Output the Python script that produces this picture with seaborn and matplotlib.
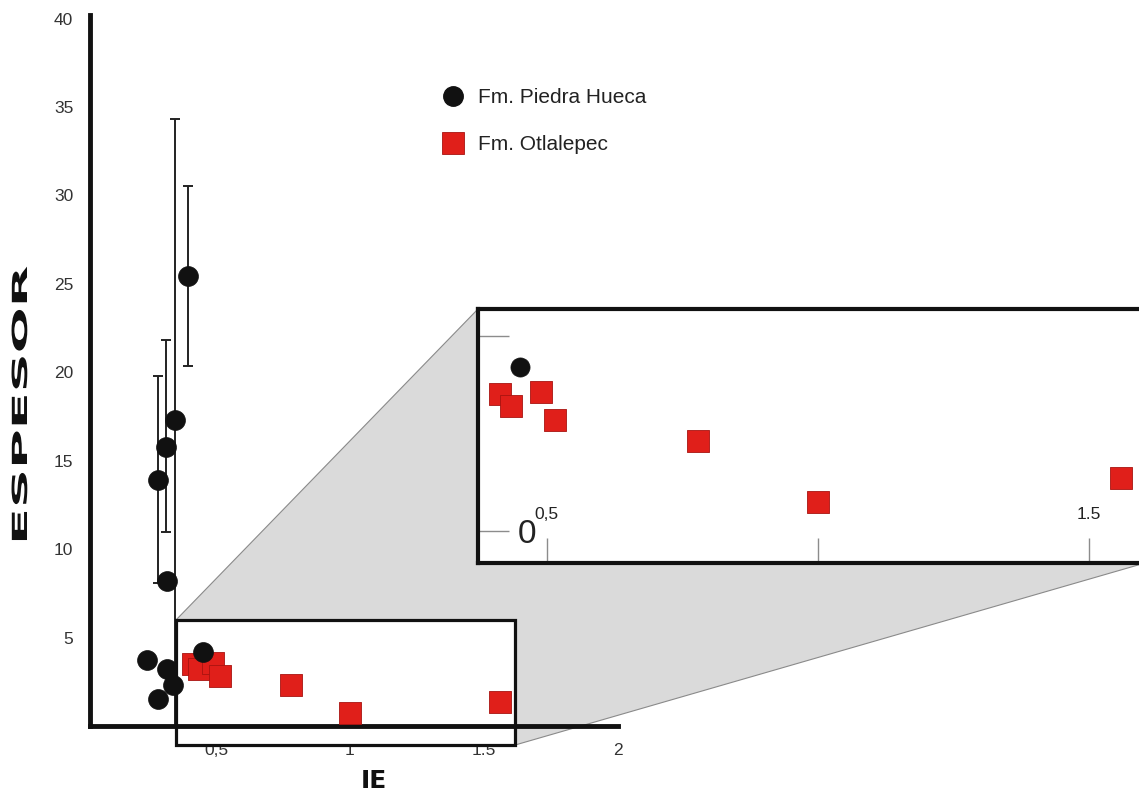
import matplotlib
matplotlib.use("Agg")
import matplotlib.pyplot as plt
import numpy as np
import pandas as pd
import seaborn as sns
from matplotlib.patches import Rectangle, Polygon
from matplotlib.lines import Line2D
from matplotlib.transforms import Affine2D
from matplotlib import patheffects

# ---- data -------------------------------------------------------------
# Fm. Piedra Hueca: IE vs espesor, with lower/upper error bars
ph_ie = [0.395, 0.346, 0.313, 0.283, 0.317, 0.242, 0.317, 0.339, 0.283, 0.45]
ph_espesor = [25.45, 17.3, 15.8, 13.9, 8.2, 3.75, 3.25, 2.3, 1.5, 4.2]
ph_err_low = [5.1, 17.3, 4.85, 5.8, 0, 0, 0, 0, 0, 0]
ph_err_high = [5.1, 17.0, 6.0, 5.9, 0, 0, 0, 0, 0, 0]

# Fm. Otlalepec
ot_ie = [0.414, 0.435, 0.49, 0.515, 0.78, 1.0, 1.56]
ot_espesor = [3.5, 3.2, 3.55, 2.85, 2.3, 0.75, 1.35]

series_names = ["Fm. Piedra Hueca", "Fm. Otlalepec"]

x_ticks = [0.5, 1, 1.5, 2]
x_tick_labels = ["0,5", "1", "1.5", "2"]
y_ticks = [5, 10, 15, 20, 25, 30, 35, 40]
y_tick_labels = ["5", "10", "15", "20", "25", "30", "35", "40"]

inset_x_ticks = [0.5, 1, 1.5]
inset_x_labels = ["0,5", "", "1.5"]
inset_y_ticks = [0, 5]
inset_y_labels = ["0", ""]

# ---- layout / style constants ------------------------------------------
W, H = 1139, 791
BLACK = "#111111"
RED = "#e01f1a"
RED_EDGE = "#a81410"
GRAY_FILL = "#dadada"
GRAY_EDGE = "#8a8a8a"

MAIN_XLIM = (0.03, 2.0)
MAIN_YLIM = (0.0, 40.2)
BOX_X = (0.35, 1.615)          # region enlarged in the detail panel
BOX_Y = (-1.08, 5.98)
INSET_XLIM = (0.3734, 1.604)
INSET_YLIM = (-0.82, 5.69)


class StretchText(patheffects.AbstractPathEffect):
    """Widen glyphs along the text direction."""

    def __init__(self, factor):
        super().__init__()
        self.factor = factor

    def draw_path(self, renderer, gc, tpath, affine, rgbFace=None):
        renderer.draw_path(gc, tpath, Affine2D().scale(self.factor, 1.0) + affine, rgbFace)


def fig_rect(left, top, right, bottom):
    return [left / W, 1 - bottom / H, (right - left) / W, (bottom - top) / H]


sns.set_style("white")
plt.rcParams["font.family"] = ["Liberation Sans", "DejaVu Sans"]

df_ph = pd.DataFrame({"IE": ph_ie, "Espesor": ph_espesor,
                      "low": ph_err_low, "high": ph_err_high})
df_ot = pd.DataFrame({"IE": ot_ie, "Espesor": ot_espesor})

fig = plt.figure(figsize=(W / 100, H / 100), dpi=100)
ax = fig.add_axes(fig_rect(90, 15, 618, 726))
ax.set_xlim(*MAIN_XLIM)
ax.set_ylim(*MAIN_YLIM)

# error bars
bars = df_ph[(df_ph["low"] > 0) | (df_ph["high"] > 0)]
ax.errorbar(bars["IE"], bars["Espesor"], yerr=[bars["low"], bars["high"]],
            fmt="none", ecolor="#222222", elinewidth=1.4, capsize=3.4,
            capthick=1.4, zorder=1.8)

# outline of the enlarged region
ax.add_patch(Rectangle((BOX_X[0], BOX_Y[0]), BOX_X[1] - BOX_X[0], BOX_Y[1] - BOX_Y[0],
                       facecolor="white", edgecolor=BLACK, linewidth=2.3,
                       zorder=2, clip_on=False))

sns.scatterplot(data=df_ot, x="IE", y="Espesor", marker="s", s=270, color=RED,
                edgecolor=RED_EDGE, linewidth=0.6, ax=ax, zorder=3, legend=False)
sns.scatterplot(data=df_ph, x="IE", y="Espesor", marker="o", s=205, color=BLACK,
                edgecolor=BLACK, linewidth=0.5, ax=ax, zorder=4, legend=False)

ax.set_xticks(x_ticks)
ax.set_xticklabels(x_tick_labels)
ax.set_yticks(y_ticks)
ax.set_yticklabels(y_tick_labels)
ax.tick_params(length=0, pad=12, labelsize=12.5, labelcolor="#333333")
ax.set_xlabel("")
ax.set_ylabel("")
for side in ("top", "right"):
    ax.spines[side].set_visible(False)
for side in ("left", "bottom"):
    ax.spines[side].set_linewidth(3.5)
    ax.spines[side].set_color(BLACK)
    ax.spines[side].set_zorder(2.5)

# detail panel
in_rect = fig_rect(478, 309, 1145, 563)
to_fig = fig.transFigure.inverted()
corner_a = to_fig.transform(ax.transData.transform((BOX_X[0], BOX_Y[1])))
corner_e = to_fig.transform(ax.transData.transform((BOX_X[1], BOX_Y[0])))
in_l, in_b, in_w, in_h = in_rect
shade = Polygon([corner_a, (in_l, in_b + in_h), (in_l + in_w, in_b + in_h),
                 (in_l + in_w, in_b), corner_e], closed=True,
                transform=fig.transFigure, facecolor=GRAY_FILL, edgecolor=GRAY_EDGE,
                linewidth=0.8, zorder=0.5, clip_on=False)
ax.add_artist(shade)

axi = fig.add_axes(in_rect)
axi.set_facecolor("white")
sns.scatterplot(data=df_ot, x="IE", y="Espesor", marker="s", s=270, color=RED,
                edgecolor=RED_EDGE, linewidth=0.6, ax=axi, zorder=3, legend=False)
sns.scatterplot(data=df_ph, x="IE", y="Espesor", marker="o", s=190, color=BLACK,
                edgecolor=BLACK, linewidth=0.5, ax=axi, zorder=4, legend=False)
axi.set_xlim(*INSET_XLIM)
axi.set_ylim(*INSET_YLIM)
axi.set_xlabel("")
axi.set_ylabel("")
axi.set_xticks(inset_x_ticks)
axi.set_xticklabels(inset_x_labels)
axi.set_yticks(inset_y_ticks)
axi.set_yticklabels(inset_y_labels)
axi.tick_params(axis="x", bottom=True, direction="in", length=18, width=1,
                color="#8c8c8c", pad=-40, labelsize=12.5, labelcolor="#222222")
axi.tick_params(axis="y", left=True, direction="in", length=22, width=1,
                color="#8c8c8c", pad=-42, labelsize=24, labelcolor="#222222")
for side in axi.spines.values():
    side.set_linewidth(3.0)
    side.set_color(BLACK)

# legend
handles = [
    Line2D([], [], linestyle="", marker="o", markersize=14, color=BLACK),
    Line2D([], [], linestyle="", marker="s", markersize=16, markerfacecolor=RED,
           markeredgecolor=RED_EDGE, markeredgewidth=0.6),
]
ax.legend(handles, series_names, loc="upper left", frameon=False,
          bbox_to_anchor=(440 / W, 1 - 88 / H), bbox_transform=fig.transFigure,
          fontsize=15, handlelength=1.2, handletextpad=0.6, labelspacing=1.35,
          borderpad=0, borderaxespad=0, labelcolor="#222222")

# axis titles
ylab = fig.text(21 / W, 1 - 545 / H, "ESPESOR", rotation=90, rotation_mode="anchor",
                ha="left", va="center", fontsize=15, fontweight="bold",
                family="DejaVu Sans", color=BLACK)
ylab.set_path_effects([StretchText(2.6)])
fig.text(374 / W, 1 - 769 / H, "IE", ha="center", va="top", fontsize=18,
         fontweight="bold", family="DejaVu Sans", color=BLACK)

fig.savefig("out.png", dpi=100)
